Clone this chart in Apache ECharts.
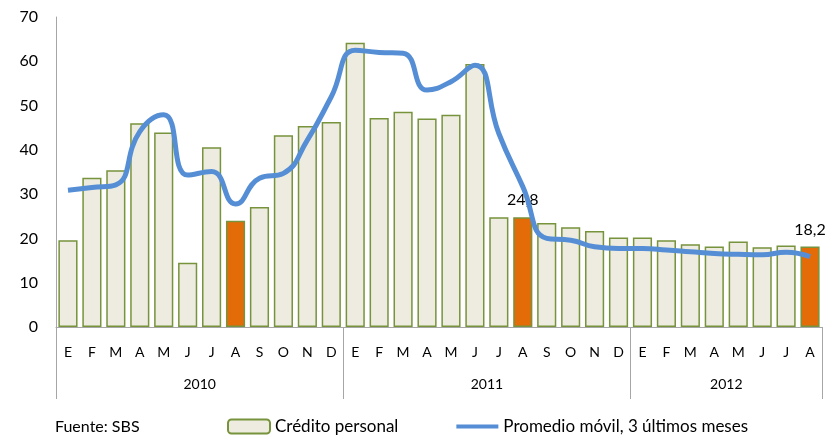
<!DOCTYPE html>
<html>
<head>
<meta charset="utf-8">
<script src="https://cdn.jsdelivr.net/npm/echarts@6/dist/echarts.min.js"></script>
<style>
html,body{margin:0;padding:0;background:#fff;}
#myEchart{width:825px;height:436px;}
</style>
</head>
<body>
<div id="myEchart"></div>
<script>
// meses ene 2010 - ago 2012
var months = ['E','F','M','A','M','J','J','A','S','O','N','D',
              'E','F','M','A','M','J','J','A','S','O','N','D',
              'E','F','M','A','M','J','J','A'];
var years = ['','','','','','2010','','','','','','',
             '','','','','','2011','','','','','','',
             '','','','2012','','','',''];
var credito = [19.6,33.7,35.4,46.0,43.9,14.5,40.6,24.0,27.1,43.3,45.4,46.3,
               64.2,47.2,48.6,47.1,47.9,59.4,24.8,24.8,23.5,22.5,21.7,20.2,
               20.2,19.6,18.7,18.2,19.3,18.0,18.4,18.2];
var promedio = [30.9,31.5,32.1,44.1,47.9,34.3,35.1,27.8,33.6,34.7,42.2,52.0,
                62.5,62.0,61.8,53.5,55.4,59.1,43.7,31.7,20.0,19.6,18.1,17.7,
                17.7,17.4,17.0,16.6,16.4,16.3,16.9,15.9];
var resaltados = [7, 19, 31]; // agostos en naranja, con etiqueta en 2011 y 2012
var etiquetados = [19, 31];

var font = 'Lato, "Open Sans", sans-serif';

var barData = credito.map(function(v, i){
    var item = {value: v};
    if (resaltados.indexOf(i) >= 0) {
        item.itemStyle = {color: '#E36C09'};
    }
    if (etiquetados.indexOf(i) >= 0) {
        item.label = {
            show: true,
            position: 'top',
            distance: 9,
            fontSize: 16,
            fontFamily: font,
            color: '#000',
            formatter: function(p){ return String(p.value).replace('.', ','); }
        };
    }
    return item;
});

var myechart = echarts.init(document.getElementById('myEchart'));
myechart.setOption({
    animation: false,
    title: {
        text: 'Fuente: SBS',
        left: 50,
        top: 414,
        textStyle: {fontSize: 16, fontWeight: 'normal', fontFamily: font, color: '#000'}
    },
    legend: {
        left: 222,
        top: 413,
        itemGap: 58,
        itemWidth: 42,
        itemHeight: 14,
        textStyle: {fontSize: 17, fontFamily: font, color: '#000'},
        data: [
            {name: 'Crédito personal'},
            {name: 'Promedio móvil, 3 últimos meses', icon: 'path://M0,0L52,0L52,5L0,5Z', symbolKeepAspect: true}
        ]
    },
    grid: {left: 56, right: 3, top: 17, bottom: 109},
    xAxis: [
        {
            type: 'category',
            data: months,
            position: 'bottom',
            axisLine: {show: true, lineStyle: {color: '#a6a6a6', width: 1}},
            axisTick: {show: false},
            axisLabel: {fontSize: 14, fontFamily: font, color: '#000', margin: 18, interval: 0}
        },
        {
            type: 'category',
            data: years,
            position: 'bottom',
            axisLine: {show: false},
            axisTick: {
                show: true,
                length: 72,
                lineStyle: {color: '#a6a6a6', width: 1},
                interval: function(index){ return index === 0 || index === 12 || index === 24; }
            },
            axisLabel: {
                fontSize: 14, fontFamily: font, color: '#000', margin: 50, interval: 0,
                padding: [0, 0, 0, 24]
            }
        }
    ],
    yAxis: {
        type: 'value',
        min: 0,
        max: 70,
        interval: 10,
        axisLine: {show: true, lineStyle: {color: '#a6a6a6', width: 1}},
        axisTick: {show: false},
        splitLine: {show: false},
        axisLabel: {fontSize: 16, fontFamily: font, color: '#000', margin: 18}
    },
    series: [
        {
            name: 'Crédito personal',
            type: 'bar',
            data: barData,
            xAxisIndex: 0,
            barCategoryGap: '20%',
            itemStyle: {color: '#EEECE1', borderColor: '#77933C', borderWidth: 1.5}
        },
        {
            name: 'Promedio móvil, 3 últimos meses',
            type: 'line',
            data: promedio,
            xAxisIndex: 0,
            smooth: 0.5,
            symbol: 'none',
            lineStyle: {color: '#558ED5', width: 5},
            itemStyle: {color: '#558ED5'},
            z: 3
        }
    ]
});
</script>
</body>
</html>
